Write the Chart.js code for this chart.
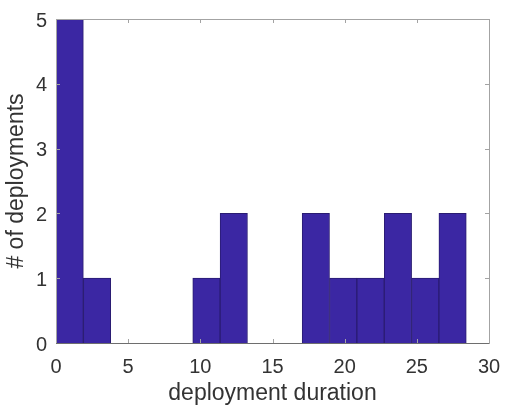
<!DOCTYPE html>
<html>
<head>
<meta charset="utf-8">
<script src="https://cdn.jsdelivr.net/npm/chart.js@4.4.1/dist/chart.umd.min.js"></script>
<style>
  html, body { margin: 0; padding: 0; background: #fff; }
  #wrap { width: 505px; height: 405px; }
</style>
</head>
<body>
<div id="wrap"><canvas id="histo"></canvas></div>
<script>
// histogram of deployment durations, 15 equal bins starting at 0
const binWidth = 1.895;
const binCounts = [5, 1, 0, 0, 0, 1, 2, 0, 0, 2, 1, 1, 2, 1, 2];
const xTicks = [0, 5, 10, 15, 20, 25, 30];
const yTicks = [0, 1, 2, 3, 4, 5];

const barFill = '#3b27a3';
const barEdge = '#2a1c72';
const boxColor = '#a3a3a3';
const textColor = '#333333';

const points = binCounts.map((c, i) => ({ x: (i + 0.5) * binWidth, y: c }));

// matlab-like box with inward ticks on all four sides
const boxTicks = {
  id: 'boxTicks',
  afterDatasetsDraw(chart) {
    const { ctx, chartArea: a, scales } = chart;
    const len = 4;
    ctx.save();
    ctx.strokeStyle = boxColor;
    ctx.lineWidth = 1;
    ctx.strokeRect(Math.round(a.left) + 0.5, Math.round(a.top) + 0.5,
                   Math.round(a.right - a.left), Math.round(a.bottom - a.top));
    ctx.beginPath();
    xTicks.forEach(v => {
      const px = Math.round(scales.x.getPixelForValue(v)) + 0.5;
      ctx.moveTo(px, a.bottom); ctx.lineTo(px, a.bottom - len);
      ctx.moveTo(px, a.top); ctx.lineTo(px, a.top + len);
    });
    yTicks.forEach(v => {
      const py = Math.round(scales.y.getPixelForValue(v)) + 0.5;
      ctx.moveTo(a.left, py); ctx.lineTo(a.left + len, py);
      ctx.moveTo(a.right, py); ctx.lineTo(a.right - len, py);
    });
    ctx.stroke();
    // darker baseline along the bottom axis
    ctx.strokeStyle = '#6e6e6e';
    ctx.beginPath();
    ctx.moveTo(a.left, Math.round(a.bottom) + 0.5);
    ctx.lineTo(a.right, Math.round(a.bottom) + 0.5);
    ctx.stroke();
    ctx.restore();
  }
};

new Chart(document.getElementById('histo'), {
  type: 'bar',
  data: {
    datasets: [{
      data: points,
      backgroundColor: barFill,
      borderColor: barEdge,
      borderWidth: 1,
      barPercentage: 1,
      categoryPercentage: 1
    }]
  },
  options: {
    responsive: true,
    maintainAspectRatio: false,
    animation: false,
    layout: { padding: { top: 19, right: 16, left: 0, bottom: 0 } },
    plugins: { legend: { display: false }, tooltip: { enabled: false } },
    scales: {
      x: {
        type: 'linear',
        min: 0,
        max: 30,
        offset: false,
        grid: { display: false, drawTicks: false },
        border: { display: false },
        ticks: {
          stepSize: 5,
          padding: 12,
          color: textColor,
          font: { family: 'Liberation Sans', size: 20 },
          maxRotation: 0
        },
        title: {
          display: true,
          text: 'deployment duration',
          color: textColor,
          font: { family: 'Liberation Sans', size: 23 },
          padding: { top: 0, bottom: -2 }
        },
        afterFit(scale) {
          scale.height = 62;
          scale.paddingLeft = 0;
          scale.paddingRight = 0;
        }
      },
      y: {
        min: 0,
        max: 5,
        grid: { display: false, drawTicks: false },
        border: { display: false },
        ticks: {
          stepSize: 1,
          padding: 9,
          labelOffset: 2,
          color: textColor,
          font: { family: 'Liberation Sans', size: 20 }
        },
        title: {
          display: true,
          text: '# of deployments',
          color: textColor,
          font: { family: 'Liberation Sans', size: 23 },
          padding: { top: 3, bottom: 0 }
        },
        afterFit(scale) {
          scale.width = 56;
          scale.paddingTop = 0;
          scale.paddingBottom = 0;
        }
      }
    }
  },
  plugins: [boxTicks]
});
</script>
</body>
</html>
